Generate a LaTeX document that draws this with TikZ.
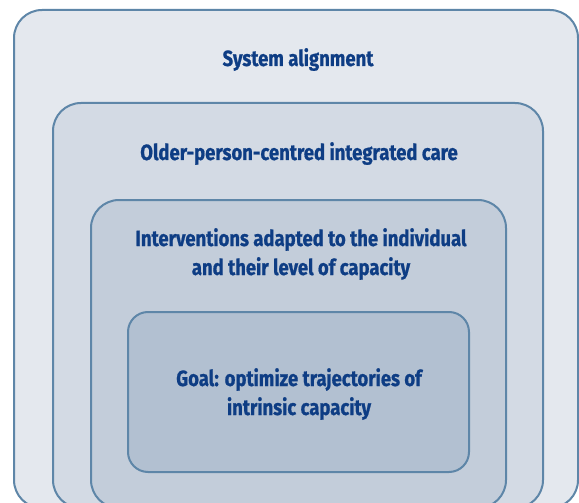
\documentclass[tikz,border=0pt]{standalone}
\usepackage{fontspec}
\setmainfont{Fira Sans}[FakeStretch=0.84, BoldFeatures={FakeBold=0.8}]
\definecolor{edge}{HTML}{5E86A8}
\definecolor{fillA}{HTML}{E4E8EE}
\definecolor{fillB}{HTML}{D3DAE4}
\definecolor{fillC}{HTML}{C3CDDA}
\definecolor{fillD}{HTML}{B2C0D1}
\definecolor{ink}{HTML}{0E3D84}
\tikzset{
  layer/.style={draw=edge, line width=2pt, rounded corners=28pt},
  label/.style={text=ink, font=\fontsize{22}{29}\selectfont\bfseries, align=center, anchor=base, inner sep=0pt}
}
\begin{document}
\begin{tikzpicture}[x=1pt,y=-1pt]
\useasboundingbox (0,0) rectangle (579,503);
\clip (0,0) rectangle (579,503);
\fill[white] (0,0) rectangle (579,503);
\draw[layer, fill=fillA] (14,10) rectangle (578,508);
\draw[layer, fill=fillB] (53,103) rectangle (543,508);
\draw[layer, fill=fillC] (91,200) rectangle (506,508);
\draw[layer, fill=fillD, rounded corners=20pt] (128,312) rectangle (469,472);
\node[label] (sys) at (298,66) {System alignment};
\node[label] (opc) at (299,160) {Older-person-centred integrated care};
\node[label] (int) at (301,275) {Interventions adapted to the individual\\and their level of capacity};
\node[label] (goal) at (299,415) {Goal: optimize trajectories of\\intrinsic capacity};
\end{tikzpicture}
\end{document}
